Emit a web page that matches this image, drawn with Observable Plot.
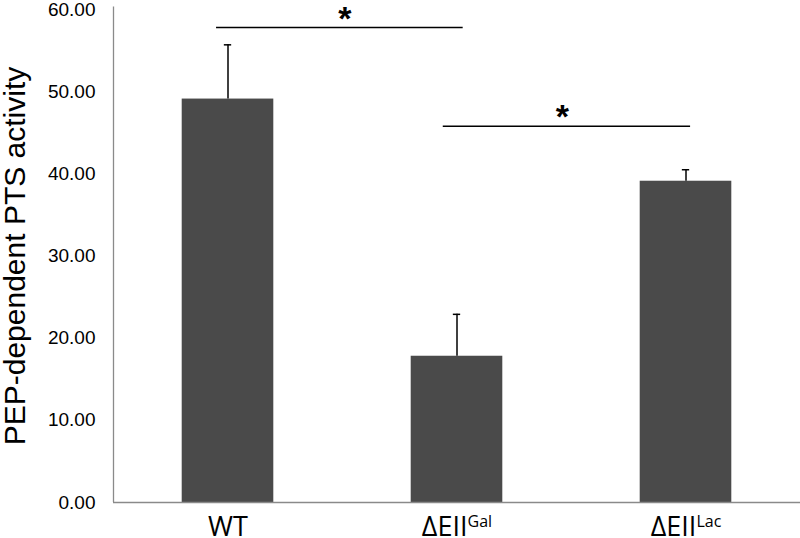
<!DOCTYPE html>
<html><head><meta charset="utf-8">
<script src="https://cdn.jsdelivr.net/npm/d3@7"></script>
<script src="https://cdn.jsdelivr.net/npm/@observablehq/plot@0.6"></script>
<style>
body{margin:0;background:#fff}
#chart svg{background:#fff}
g[aria-label="y-axis tick label"] text{font-family:"Liberation Sans",Arial,sans-serif;font-size:19px;fill:#000}
g[aria-label="x-axis tick label"] text{font-family:"Open Sans","Liberation Sans",sans-serif;font-size:27px;fill:#000}
</style></head><body><div id="chart"></div>
<script>
// Data
const categories = ["WT", "ΔEII", "ΔEII"];
const superscripts = ["", "Gal", "Lac"];
const values = [49.1, 17.8, 39.1];
const errors = [6.6, 5.1, 1.4];
const yTicks = [0, 10, 20, 30, 40, 50, 60];
const yTitle = "PEP-dependent PTS activity";
// significance brackets (x in category-index units, y in data units)
const sigStart = [0.45, 1.44];
const sigEnd = [1.527, 2.52];
const sigLevel = [57.8, 45.8];
const sigStarX = [1.01, 1.96];
const sigLabel = ["*", "*"];

const barHalf = 0.2, capHalf = 0.016;
const data = categories.map((c, i) => ({pos: i + 0.5, c, v: values[i], e: errors[i]}));
const sig = sigLevel.map((y, k) => ({x1: sigStart[k], x2: sigEnd[k], y, xs: sigStarX[k], t: sigLabel[k]}));

const plot = Plot.plot({
  width: 800, height: 538,
  marginTop: 9, marginBottom: 36, marginLeft: 113, marginRight: 0,
  x: {domain: [0, 3]},
  y: {domain: [0, 60]},
  marks: [
    Plot.rectY(data, {x1: d => d.pos - barHalf, x2: d => d.pos + barHalf, y1: 0, y2: "v", fill: "#4a4a4a"}),
    Plot.ruleX(data, {x: "pos", y1: "v", y2: d => d.v + d.e, stroke: "#000", strokeWidth: 1.5}),
    Plot.ruleY(data, {y: d => d.v + d.e, x1: d => d.pos - capHalf, x2: d => d.pos + capHalf, stroke: "#000", strokeWidth: 1.5}),
    Plot.ruleY([0], {x1: 0, x2: 3, stroke: "#8a8a8a", strokeWidth: 1.3}),
    Plot.ruleX([0], {y1: 0, y2: 60.3, stroke: "#8a8a8a", strokeWidth: 1.3}),
    Plot.ruleY(sig, {y: "y", x1: "x1", x2: "x2", stroke: "#000", strokeWidth: 1.5}),
    Plot.text(sig, {x: "xs", y: "y", text: "t", fontSize: 34, fontWeight: "bold", fill: "#000", lineAnchor: "bottom", dy: 2, fontFamily: "Liberation Sans, Arial, sans-serif"}),
    Plot.axisY({ticks: yTicks, tickFormat: d => d.toFixed(2), tickSize: 0, tickPadding: 18, label: null}),
    Plot.axisX({ticks: [0.5, 1.5, 2.5], tickFormat: d => categories[Math.floor(d)], tickSize: 0, tickPadding: 14, label: null}),
    Plot.text([yTitle], {frameAnchor: "left", textAnchor: "middle", rotate: -90, dx: -98, fontSize: 30, fill: "#000", fontFamily: "Liberation Sans, Arial, sans-serif"})
  ]
});
document.getElementById("chart").appendChild(plot);

// add superscripts to x tick labels
d3.select(plot).selectAll('g[aria-label="x-axis tick label"] text').each(function(d, i) {
  const sup = superscripts[i];
  if (!sup) return;
  const t = d3.select(this);
  const base = categories[i];
  t.text(null);
  t.append("tspan").text(base);
  t.append("tspan").attr("dy", "-9").attr("font-size", "16px").text(sup);
});
</script></body></html>
